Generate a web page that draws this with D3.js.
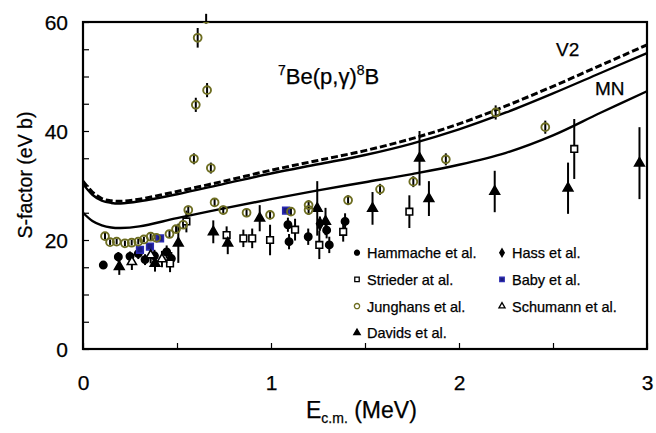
<!DOCTYPE html>
<html>
<head>
<meta charset="utf-8">
<script src="https://cdn.jsdelivr.net/npm/d3@7"></script>
<style>
  body { margin: 0; background: #fff; }
  text { font-family: "Liberation Sans", Arial, Helvetica, sans-serif; fill: #000; stroke: #000; stroke-width: 0.25px; }
</style>
</head>
<body>
<script>
// theory curves, S-factor (eV b) against E (MeV)
const curveE   = [0, 0.05, 0.1, 0.15, 0.2, 0.3, 0.5, 0.75, 1.0, 1.25, 1.5, 1.75, 2.0, 2.25, 2.5, 2.75, 3.0]
const v2Solid  = [30.3, 28.3, 27.2, 26.8, 26.7, 27.1, 28.4, 30.3, 32.2, 33.9, 35.6, 37.7, 40.3, 43.4, 46.9, 50.6, 54.3]
const v2Dashed = [30.8, 28.8, 27.6, 27.2, 27.1, 27.5, 28.9, 30.8, 32.8, 34.6, 36.4, 38.6, 41.3, 44.6, 48.2, 52.0, 55.8]
const mnCurve  = [25.0, 23.5, 22.7, 22.3, 22.2, 22.5, 24.0, 25.8, 27.5, 29.1, 30.6, 32.1, 33.8, 36.0, 39.2, 43.3, 47.3]

// data sets: [E, S, error]
const hammache = [[0.108, 15.4, 0.7], [0.188, 16.9, 0.9], [0.25, 17.0, 0.9], [0.294, 17.5, 1.0], [0.33, 16.4, 1.0],
  [0.38, 17.1, 1.1], [0.445, 17.8, 1.2], [0.47, 16.6, 1.2], [1.09, 22.8, 1.3], [1.096, 19.7, 1.4],
  [1.198, 20.6, 1.5], [1.296, 21.8, 1.5], [1.31, 19.1, 1.5], [1.394, 23.4, 1.5]]
const hass = [[1.26, 23.0, 1.3]]
const strieder = [[0.463, 15.7, 1.6], [0.55, 23.4, 2.0], [0.764, 20.9, 1.6], [0.853, 20.3, 1.6], [0.9, 20.3, 1.8],
  [0.995, 20.0, 2.8], [1.128, 21.9, 2.0], [1.257, 19.1, 2.6], [1.384, 21.5, 1.8], [1.736, 25.2, 3.0], [2.613, 36.7, 5.5]]
const baby = [[0.303, 18.2, 0.6], [0.356, 18.8, 0.6], [0.41, 20.3, 0.6], [1.08, 25.4, 0.6]]
const junghans = [[0.117, 20.7, 0.6], [0.144, 19.6, 0.5], [0.179, 19.7, 0.5], [0.223, 19.4, 0.5], [0.259, 19.5, 0.5],
  [0.294, 19.7, 0.5], [0.324, 20.1, 0.5], [0.36, 20.6, 0.6], [0.39, 20.4, 0.6], [0.46, 21.1, 0.6], [0.495, 22.0, 0.6],
  [0.533, 22.8, 0.6], [0.56, 25.5, 0.8], [0.59, 34.9, 1.0], [0.60, 44.8, 1.3], [0.61, 57.1, 1.8], [0.655, 60.6, 0.9],
  [0.66, 47.5, 1.3], [0.68, 33.2, 1.0], [0.70, 26.9, 0.8], [0.746, 25.5, 0.8], [0.87, 25.0, 0.8], [0.995, 24.6, 0.8],
  [1.106, 25.2, 0.8], [1.2, 26.4, 0.9], [1.2, 25.5, 0.9], [1.41, 27.3, 0.9], [1.58, 29.3, 1.0], [1.757, 30.7, 1.0],
  [1.93, 34.8, 1.1], [2.195, 43.4, 1.3], [2.459, 40.7, 1.2]]
const schumann = [[0.26, 16.0, 1.5], [0.36, 17.2, 1.5], [0.42, 16.5, 1.5]]
const davids = [[0.193, 15.1, 1.5], [0.383, 15.7, 1.5], [0.507, 19.4, 3.6], [0.693, 21.5, 2.1], [0.77, 19.4, 2.0],
  [0.94, 24.0, 2.4], [1.246, 25.8, 5.0], [1.29, 23.4, 2.5], [1.54, 25.8, 3.0], [1.79, 35.0, 5.0], [1.84, 27.6, 3.2],
  [2.19, 28.9, 3.8], [2.58, 29.5, 4.7], [2.96, 34.1, 6.6]]

const legendNames = ['Hammache et al.', 'Hass et al.', 'Strieder at al.', 'Baby et al.', 'Junghans et al.', 'Schumann et al.', 'Davids et al.']
const xTicks = [0, 0.5, 1, 1.5, 2, 2.5, 3]
const yTicks = [0, 5, 10, 15, 20, 25, 30, 35, 40, 45, 50, 55, 60]

const width = 656, height = 433
const plot = { left: 83, right: 647, top: 22, bottom: 349 }
const olive = '#6e6e22'

const svg = d3.select('body').append('svg')
  .attr('width', width)
  .attr('height', height)

const x = d3.scaleLinear().domain([0, 3]).range([plot.left, plot.right])
const y = d3.scaleLinear().domain([0, 60]).range([plot.bottom, plot.top])

svg.append('clipPath').attr('id', 'clip')
  .append('rect')
  .attr('x', plot.left).attr('y', plot.top)
  .attr('width', plot.right - plot.left).attr('height', plot.bottom - plot.top)

// axes
svg.append('g')
  .attr('transform', `translate(0,${plot.bottom})`)
  .call(d3.axisBottom(x).tickValues(xTicks).tickSize(-6).tickPadding(26)
    .tickFormat(d => Number.isInteger(d) ? d : ''))
  .call(g => g.select('.domain').remove())
  .call(g => g.selectAll('line').attr('stroke-width', 1.2))
  .call(g => g.selectAll('text').style('font-size', '21px'))

svg.append('g')
  .attr('transform', `translate(${plot.left},0)`)
  .call(d3.axisLeft(y).tickValues(yTicks).tickSize(-6).tickPadding(15)
    .tickFormat(d => d % 20 == 0 ? d : ''))
  .call(g => g.select('.domain').remove())
  .call(g => g.selectAll('line').attr('stroke-width', 1.2))
  .call(g => g.selectAll('text').style('font-size', '21px').attr('dy', '0.36em'))

svg.append('rect')
  .attr('x', plot.left).attr('y', plot.top)
  .attr('width', plot.right - plot.left).attr('height', plot.bottom - plot.top)
  .attr('fill', 'none').attr('stroke', '#000').attr('stroke-width', 2.2)

// axis titles
svg.append('text')
  .attr('transform', `translate(32,175) rotate(-90)`)
  .attr('text-anchor', 'middle')
  .style('font-size', '19.5px')
  .text('S-factor (eV b)')

const xl = svg.append('text').attr('x', 306).attr('y', 418).style('font-size', '23px')
xl.append('tspan').text('E')
xl.append('tspan').attr('dy', 5).style('font-size', '14px').text('c.m.')
xl.append('tspan').attr('dy', -5).text(' (MeV)')

// curves
const line = d3.line()
  .x((d, i) => x(curveE[i]))
  .y(d => y(d))
  .curve(d3.curveCatmullRom)

svg.append('path').datum(mnCurve).attr('d', line)
  .attr('fill', 'none').attr('stroke', '#000').attr('stroke-width', 2.4)
svg.append('path').datum(v2Solid).attr('d', line)
  .attr('fill', 'none').attr('stroke', '#000').attr('stroke-width', 2.4)
svg.append('path').datum(v2Dashed).attr('d', line)
  .attr('fill', 'none').attr('stroke', '#000').attr('stroke-width', 3)
  .attr('stroke-dasharray', '7,3')

// data sets with error bars
const sets = [
  { data: hammache, sym: d3.symbolCircle, size: 42, fill: '#000', stroke: '#000' },
  { data: hass, sym: d3.symbolDiamond, size: 40, fill: '#000', stroke: '#000' },
  { data: strieder, sym: d3.symbolSquare, size: 44, fill: '#fff', stroke: '#000' },
  { data: baby, sym: d3.symbolSquare, size: 44, fill: '#1b1b80', stroke: '#2a2ab0' },
  { data: schumann, sym: d3.symbolTriangle, size: 36, fill: '#fff', stroke: '#000' },
  { data: davids, sym: d3.symbolTriangle, size: 40, fill: '#000', stroke: '#000' },
  { data: junghans, sym: d3.symbolCircle, size: 48, fill: 'none', stroke: olive }
]

sets.forEach(s => {
  svg.append('g').selectAll('line')
    .data(s.data)
    .join('line')
    .attr('x1', d => x(d[0])).attr('x2', d => x(d[0]))
    .attr('y1', d => y(d[1] - d[2])).attr('y2', d => y(d[1] + d[2]))
    .attr('stroke', '#000').attr('stroke-width', 2)
})

sets.forEach(s => {
  svg.append('g').attr('clip-path', 'url(#clip)').selectAll('path')
    .data(s.data)
    .join('path')
    .attr('transform', d => `translate(${x(d[0])},${y(d[1])})`)
    .attr('d', d3.symbol().type(s.sym).size(s.size))
    .attr('fill', s.fill)
    .attr('stroke', s.stroke)
    .attr('stroke-width', s.data == junghans ? 1.9 : 1.6)
})

// labels
const title = svg.append('text').attr('x', 278).attr('y', 84).style('font-size', '22px')
title.append('tspan').attr('dy', -9).style('font-size', '14px').text('7')
title.append('tspan').attr('dy', 9).text('Be(p,γ)')
title.append('tspan').attr('dy', -9).style('font-size', '14px').text('8')
title.append('tspan').attr('dy', 9).text('B')

svg.append('text').attr('x', 556).attr('y', 56).style('font-size', '19px').text('V2')
svg.append('text').attr('x', 595).attr('y', 95).style('font-size', '19px').text('MN')

// legend
const legendSets = [sets[0], sets[1], sets[2], sets[3], sets[6], sets[4], sets[5]]
const leg = svg.append('g')
  .selectAll('g')
  .data(legendNames)
  .join('g')
  .attr('transform', (d, i) => `translate(${i % 2 == 0 ? 357 : 502},${252.7 + Math.floor(i / 2) * 26.7})`)

leg.append('path')
  .attr('d', (d, i) => d3.symbol().type(legendSets[i].sym).size(legendSets[i].size * 0.45)())
  .attr('fill', (d, i) => legendSets[i].fill)
  .attr('stroke', (d, i) => legendSets[i].stroke)
  .attr('stroke-width', 1.3)

leg.append('text')
  .attr('x', 10)
  .attr('y', 5.5)
  .style('font-size', '14.5px')
  .text(d => d)
</script>
</body>
</html>
